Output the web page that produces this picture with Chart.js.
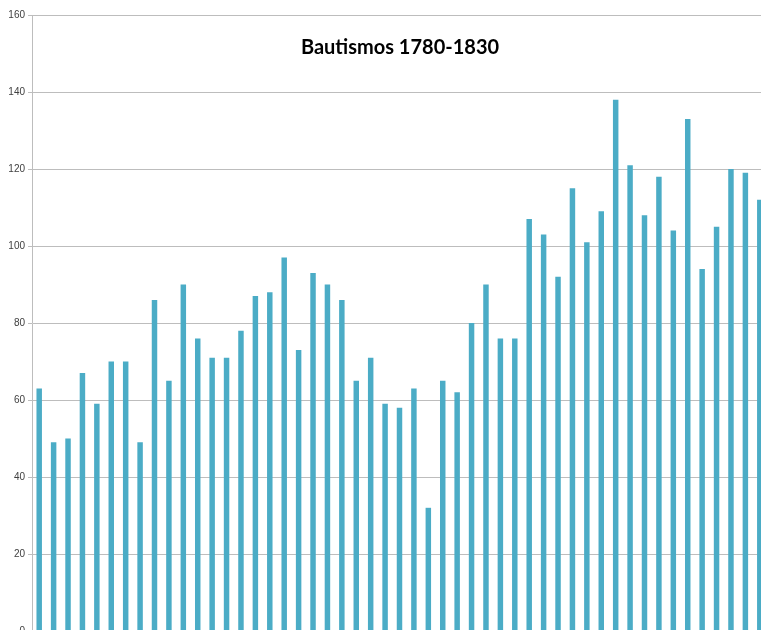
<!DOCTYPE html>
<html>
<head>
<meta charset="utf-8">
<script src="https://cdn.jsdelivr.net/npm/chart.js@4.4.0/dist/chart.umd.min.js"></script>
<style>
  html, body { margin: 0; padding: 0; overflow: hidden; background: #fff; }
  #wrap { position: relative; width: 767px; height: 662px; }
  #titulo {
    position: absolute; left: 0; width: 800px; top: 34px; text-align: center;
    font-family: Lato, "Open Sans", sans-serif; font-weight: bold; font-size: 20px; color: #000;
  }
</style>
</head>
<body>
<div id="wrap">
  <canvas id="grafico"></canvas>
  <div id="titulo">Bautismos 1780-1830</div>
</div>
<script>
const anios = [];
for (let a = 1780; a <= 1830; a++) anios.push(String(a));

const bautismos = [63, 49, 50, 67, 59, 70, 70, 49, 86, 65,
                   90, 76, 71, 71, 78, 87, 88, 97, 73, 93,
                   90, 86, 65, 71, 59, 58, 63, 32, 65, 62,
                   80, 90, 76, 76, 107, 103, 92, 115, 101, 109,
                   138, 121, 108, 118, 104, 133, 94, 105, 120, 119,
                   112];

const ejeY = { min: 0, max: 160, paso: 20 };

new Chart(document.getElementById('grafico'), {
    type: 'bar',
    data: {
        labels: anios,
        datasets: [
            {
                label: 'Bautismos',
                data: bautismos,
                backgroundColor: '#4BACC6',
                borderWidth: 0,
                barPercentage: 0.38,
                categoryPercentage: 1.0
            }
        ]
    },
    options: {
        responsive: true,
        maintainAspectRatio: false,
        animation: false,
        layout: { padding: { top: 15, left: 0, right: 0, bottom: 0 } },
        plugins: {
            legend: { display: false },
            tooltip: { enabled: false }
        },
        scales: {
            x: {
                ticks: { display: false },
                grid: { display: false },
                border: { color: '#bfbfbf' },
                afterFit: (s) => { s.height = 31; }
            },
            y: {
                min: ejeY.min,
                max: ejeY.max,
                ticks: {
                    stepSize: ejeY.paso,
                    padding: 3,
                    color: '#404040',
                    font: { family: 'Liberation Sans, Arial, sans-serif', size: 10 }
                },
                grid: { color: '#bdbdbd', tickLength: 4 },
                border: { color: '#bdbdbd' },
                afterFit: (s) => { s.width = 32; }
            }
        }
    }
});
</script>
</body>
</html>
